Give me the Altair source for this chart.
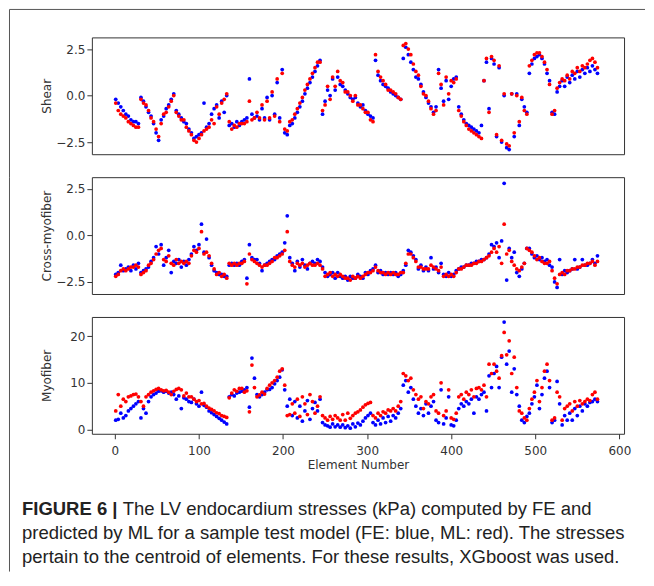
import altair as alt
import pandas as pd

# element numbers (every third element is shown)
elements = list(range(1, 576, 3))

shear_fe = [
    -0.2, -0.4, -0.6, -0.8, -1.0, -1.1, -1.3, -1.4, -1.4, -1.5,
    -0.1, -0.3, -0.6, -0.9, -1.1, -1.5, -2.0, -2.4, -1.3, -1.1,
    -0.7, -0.5, -0.2, 0.1, -0.8, -1.0, -1.2, -1.4, -1.5, -1.8,
    -2.0, -2.3, -2.2, -2.1, -2.0, -0.4, -1.7, -1.5, -1.0, -0.7,
    -0.5, -1.2, -0.3, -0.9, 0.0, -1.6, -1.5, -1.7, -1.4, -1.6,
    -1.4, -1.3, -1.2, 0.9, -1.0, -1.2, -1.1, -1.3, -0.7, -1.2,
    -0.1, -1.3, 0.0, -1.0, 0.7, -1.2, 1.4, -2.0, -2.1, -1.6,
    -1.5, -1.2, -0.9, -0.6, -0.3, 0.1, 0.4, 0.7, 1.0, 1.3,
    1.6, 1.9, -1.0, -0.3, 0.3, 0.0, 0.9, 0.3, 1.0, 0.6,
    0.5, 0.3, 0.1, -0.1, -0.2, -0.1, -0.4, -0.6, -0.5, -0.8,
    -1.0, -1.1, -1.2, 1.9, 1.1, 0.8, 0.6, 0.5, 0.4, 0.2,
    0.1, 0.0, -0.1, -0.2, 2.0, 2.6, 2.2, 1.8, 1.4, 1.0,
    0.9, 0.6, 0.2, -0.1, -0.4, -0.6, -0.9, -0.6, 1.4, 0.4,
    -0.3, 0.8, -0.2, 0.5, 0.9, 1.0, -0.6, -1.0, -1.3, -1.5,
    -1.6, -1.7, -1.8, -1.9, -2.0, -1.6, 0.8, 1.8, -0.7, 2.0,
    1.7, -2.2, 1.5, -2.5, 0.0, -2.8, -2.9, 0.1, -2.2, 0.1,
    -1.6, -0.2, -0.6, -0.9, 1.2, 1.7, 2.0, 2.1, 2.2, 2.0,
    1.7, 1.2, 0.8, -0.9, -1.0, 0.2, 0.5, 0.8, 0.5, 1.0,
    0.7, 1.1, 0.9, 1.3, 1.0, 1.4, 1.2, 1.5, 1.3, 1.6,
    1.4, 1.2,
]
shear_ml = [
    -0.4, -0.8, -1.0, -1.1, -1.2, -1.4, -1.5, -1.6, -1.7, -1.7,
    -0.2, -0.4, -0.5, -0.8, -1.2, -1.4, -1.8, -2.2, -1.5, -1.0,
    -0.9, -0.6, -0.3, 0.0, -0.9, -1.1, -1.3, -1.3, -1.7, -1.9,
    -2.1, -2.4, -2.5, -2.3, -2.1, -1.9, -1.8, -1.7, -1.3, -1.5,
    -0.6, -1.0, -0.4, -0.2, 0.1, -1.4, -1.8, -1.6, -1.7, -1.5,
    -1.5, -1.5, -1.4, -0.3, -1.3, -1.2, -0.9, -1.2, -0.5, -1.3,
    -0.3, -1.2, 0.2, -1.1, 0.9, -1.4, 1.2, -1.8, -1.9, -1.4,
    -1.3, -1.0, -0.7, -0.4, -0.1, 0.3, 0.6, 0.9, 1.2, 1.5,
    1.8, 1.8, -0.8, -0.5, 0.5, -0.2, 1.0, 0.5, 1.3, 0.8,
    0.7, 0.2, 0.2, 0.0, -0.3, 0.0, -0.5, -0.5, -0.7, -0.9,
    -0.9, -1.3, -1.4, 2.2, 1.3, 1.0, 0.8, 0.6, 0.3, 0.3,
    0.2, 0.1, -0.1, -0.2, 2.7, 2.8, 2.5, 2.2, 1.7, 1.3,
    1.1, 0.5, 0.1, 0.0, -0.3, -0.7, -1.0, -0.8, 1.2, 0.6,
    -0.5, 1.0, 0.1, 0.8, 0.7, 0.9, -0.8, -1.1, -1.4, -1.6,
    -1.8, -1.9, -2.0, -2.1, -2.2, -2.3, 0.8, 2.0, -0.9, 2.1,
    1.9, -2.1, 1.6, -2.4, 0.1, -2.6, -2.7, 0.1, -2.0, 0.0,
    -1.4, -0.1, -0.8, -1.0, 1.6, 1.9, 2.2, 2.3, 2.3, 2.1,
    1.8, 1.4, 0.6, -1.0, -0.8, 0.4, 0.7, 0.9, 0.8, 1.1,
    0.9, 1.3, 1.2, 1.5, 1.3, 1.6, 1.5, 1.7, 1.9, 2.0,
    1.8, 1.5,
]

cross_fe = [
    -2.1, -2.0, -1.6, -1.9, -1.8, -1.7, -1.9, -1.6, -1.8, -1.5,
    -2.0, -1.9, -1.8, -1.7, -1.4, -1.2, -0.6, -1.0, -0.5, -1.6,
    -1.2, -0.8, -2.0, -1.4, -1.5, -1.3, -1.7, -1.4, -1.6, -1.3,
    -1.0, -0.6, -0.8, -0.5, 0.6, -0.9, -0.2, -1.2, -1.6, -1.9,
    -2.0, -2.1, -2.1, -2.2, -2.2, -1.6, -1.5, -1.6, -1.5, -1.6,
    -1.4, -1.3, -2.3, -0.5, -1.2, -1.3, -1.3, -1.5, -1.9, -1.6,
    -1.5, -1.4, -1.3, -1.3, -1.1, -1.0, -0.9, -0.4, 1.05, -1.2,
    -1.5, -1.9, -1.4, -1.7, -1.3, -1.6, -1.8, -1.5, -1.4, -1.5,
    -1.3, -1.4, -1.7, -2.0, -2.2, -2.1, -2.0, -2.3, -2.0, -2.2,
    -2.3, -2.2, -2.4, -2.2, -2.3, -2.3, -2.1, -2.2, -2.3, -2.0,
    -2.1, -1.9, -1.8, -1.6, -2.0, -1.9, -2.1, -2.0, -2.1, -2.0,
    -2.1, -2.0, -2.2, -2.1, -1.9, -1.6, -0.8, -0.9, -1.1, -1.3,
    -1.8, -1.6, -1.9, -1.7, -1.9, -1.2, -1.8, -1.7, -2.0, -1.5,
    -2.1, -2.2, -2.0, -2.2, -2.1, -1.9, -1.8, -1.7, -1.7, -1.6,
    -1.6, -1.5, -1.5, -1.4, -1.4, -1.3, -1.3, -1.2, -1.0, -0.5,
    -0.6, -0.4, -1.2, -0.3, 2.8, -2.4, -0.7, -1.2, -0.9, -2.0,
    -2.2, -1.8, -1.5, -0.7, -0.7, -1.0, -1.2, -1.1, -1.3, -1.2,
    -1.4, -1.3, -1.6, -1.7, -2.5, -2.8, -1.3, -2.1, -1.9, -2.0,
    -1.9, -1.8, -1.3, -1.8, -1.7, -1.3, -1.6, -1.6, -1.5, -1.3,
    -1.5, -1.1,
]
cross_ml = [
    -2.2, -2.1, -1.9, -1.8, -1.9, -1.8, -1.7, -1.7, -1.6, -1.7,
    -2.1, -2.0, -1.9, -1.6, -1.5, -1.3, -1.0, -0.8, -0.7, -1.3,
    -1.4, -1.1, -1.5, -1.6, -1.3, -1.5, -1.4, -1.5, -1.4, -1.5,
    -1.1, -0.8, -0.9, -0.7, 0.2, -1.0, -0.9, -1.1, -1.5, -1.8,
    -2.1, -2.0, -2.2, -2.1, -2.3, -1.5, -1.6, -1.5, -1.6, -1.5,
    -1.5, -1.4, -2.6, -1.0, -1.3, -1.4, -1.5, -1.6, -1.7, -1.6,
    -1.6, -1.5, -1.4, -1.2, -1.2, -1.1, -1.0, -0.8, 0.2, -1.4,
    -1.6, -1.7, -1.5, -1.6, -1.5, -1.7, -1.6, -1.5, -1.6, -1.6,
    -1.5, -1.6, -1.8, -2.2, -2.1, -2.0, -2.2, -2.1, -2.2, -2.1,
    -2.2, -2.3, -2.3, -2.4, -2.2, -2.3, -2.2, -2.3, -2.2, -2.1,
    -2.0, -2.0, -1.9, -1.7, -1.9, -2.0, -2.0, -2.1, -2.0, -2.1,
    -2.0, -2.1, -2.1, -2.0, -2.0, -1.5, -1.0, -1.0, -1.2, -1.4,
    -1.7, -1.7, -1.8, -1.8, -1.8, -1.6, -1.7, -1.8, -1.9, -1.7,
    -2.2, -2.1, -2.2, -2.1, -2.2, -2.0, -1.8, -1.8, -1.7, -1.6,
    -1.6, -1.6, -1.5, -1.5, -1.4, -1.4, -1.3, -1.2, -1.1, -0.9,
    -0.7, -0.9, -0.6, -1.5, 0.6, -1.0, -0.8, -1.4, -1.6, -1.8,
    -1.9, -1.7, -1.5, -0.7, -0.8, -0.9, -1.1, -1.3, -1.2, -1.4,
    -1.5, -1.5, -1.4, -1.9, -2.3, -2.6, -2.1, -2.0, -2.1, -1.9,
    -1.9, -1.8, -1.8, -1.7, -1.7, -1.6, -1.6, -1.5, -1.5, -1.4,
    -1.6, -1.4,
]

myo_fe = [
    2.0, 2.2, 3.5, 2.5, 3.0, 4.0, 4.5, 5.0, 5.5, 6.0,
    2.5, 4.5, 3.5, 6.0, 7.0, 7.5, 7.8, 8.2, 8.3, 8.0,
    8.2, 7.8, 8.0, 7.5, 6.5, 7.2, 4.5, 6.8, 6.5, 6.0,
    5.8, 6.5, 5.5, 5.0, 8.0, 5.2, 4.8, 4.0, 3.6, 3.2,
    2.8, 2.4, 2.0, 1.6, 1.2, 7.0, 7.5, 7.2, 7.8, 8.0,
    8.2, 8.5, 9.0, 4.8, 15.3, 11.0, 7.5, 7.0, 7.5, 8.0,
    8.5, 8.6, 9.0, 9.8, 10.5, 11.2, 12.8, 8.5, 5.0, 6.5,
    3.0, 6.0, 2.5, 5.0, 1.8, 4.0, 6.2, 2.2, 4.5, 5.8,
    4.0, 6.5, 1.5, 1.0, 0.8, 0.5, 1.2, 0.6, 1.0, 0.5,
    1.0, 0.4, 0.8, 0.3, 1.2, 0.6, 1.4, 1.0, 1.8, 2.5,
    3.0, 3.5, 1.5, 1.0, 2.0, 1.2, 2.5, 1.5, 2.8, 1.8,
    3.0, 2.5, 3.5, 4.5, 9.5, 10.5, 8.0, 9.0, 6.5, 5.0,
    3.5, 4.5, 3.0, 5.5, 3.5, 5.0, 6.0, 2.0, 1.5, 8.5,
    1.2, 2.5, 7.0, 1.0, 0.8, 2.0, 4.5, 5.5, 5.0, 6.0,
    5.5, 6.5, 3.5, 7.0, 6.5, 7.5, 8.0, 4.0, 11.5, 9.0,
    12.0, 13.5, 9.0, 15.5, 23.0, 14.0, 16.8, 8.0, 13.0, 7.5,
    5.0, 2.0, 1.5, 2.8, 3.5, 5.5, 7.0, 9.5, 4.5, 7.5,
    11.0, 12.5, 9.0, 1.5, 2.0, 10.3, 5.5, 1.0, 3.0, 2.0,
    3.5, 2.0, 4.5, 3.0, 5.0, 4.0, 5.5, 5.0, 5.8, 6.0,
    6.5, 6.0,
]
myo_ml = [
    4.0, 7.5, 5.0, 6.5, 6.0, 7.0, 7.2, 7.5, 7.6, 7.0,
    6.0, 5.0, 7.0, 7.5, 8.0, 8.3, 8.6, 8.8, 8.5, 8.3,
    8.4, 8.0, 7.5, 8.2, 8.6, 8.8, 8.5, 7.2, 7.8, 7.0,
    7.0, 6.5, 6.0, 6.2, 5.5, 5.6, 5.0, 4.6, 4.3, 4.0,
    3.6, 3.4, 3.0, 2.8, 2.6, 6.8, 7.8, 8.5, 8.2, 8.8,
    8.8, 8.0, 8.3, 3.8, 13.8, 9.0, 7.0, 7.4, 8.0, 7.6,
    8.8, 9.5, 10.0, 10.5, 11.2, 12.5, 13.0, 9.5, 3.0, 3.2,
    5.5, 3.5, 6.5, 2.8, 7.0, 5.5, 3.2, 7.5, 6.0, 3.5,
    5.0, 7.0, 3.0, 2.5, 2.0, 2.8, 2.2, 3.0, 2.5, 2.0,
    3.2, 2.0, 3.5, 2.4, 3.0, 3.5, 3.8, 4.2, 4.8, 5.3,
    5.6, 5.8, 3.0, 2.5, 3.5, 3.0, 3.8, 3.5, 4.2, 4.0,
    4.5, 4.0, 5.0, 6.0, 12.0, 11.5, 10.5, 11.0, 8.5, 7.5,
    6.5, 7.0, 4.5, 6.0, 5.5, 7.0, 7.5, 4.0, 3.5, 10.0,
    3.0, 4.0, 8.5, 2.5, 2.2, 3.5, 7.0, 7.5, 6.5, 8.0,
    7.5, 8.5, 7.0, 8.8, 9.0, 8.5, 9.5, 7.0, 14.0, 12.0,
    14.0, 12.5, 11.0, 15.8, 20.8, 16.0, 19.0, 12.0, 15.5, 9.0,
    4.0, 3.5, 2.5, 2.0, 4.5, 6.5, 8.0, 10.5, 6.0, 9.0,
    12.5, 14.0, 10.5, 2.0, 2.5, 8.0, 7.0, 2.0, 4.5, 5.0,
    5.5, 4.0, 6.0, 5.0, 6.2, 5.5, 6.0, 6.5, 6.2, 7.5,
    8.0, 6.5,
]

panel_titles = ["Shear", "Cross-myofiber", "Myofiber"]
stress_ticks = [-2.5, 0.0, 2.5]
myo_ticks = [0, 10, 20]
x_ticks = [0, 100, 200, 300, 400, 500, 600]
x_title = "Element Number"
caption_bold = "FIGURE 6 |"
caption_lines = [
    "The LV endocardium stresses (kPa) computed by FE and",
    "predicted by ML for a sample test model (FE: blue, ML: red). The stresses",
    "pertain to the centroid of elements. For these results, XGboost was used.",
]

W, H = 533, 117
X_DOMAIN = [-27.4, 605.6]
TXT = "#333333"
FONT = "DejaVu Sans"
CAP_FONT = "Liberation Sans"
CAP_SIZE = 18.5
one = pd.DataFrame({"k": [0]})


def points(fe, ml, title, ydom, yvals, yexpr, xaxis):
    n = min(len(elements), len(fe), len(ml))
    df = pd.DataFrame({
        "element": elements[:n] + elements[:n],
        "value": list(fe[:n]) + list(ml[:n]),
        "series": ["FE"] * n + ["ML"] * n,
    })
    return alt.Chart(df).mark_circle(size=14, opacity=1).encode(
        x=alt.X("element:Q", scale=alt.Scale(domain=X_DOMAIN, nice=False, zero=False), axis=xaxis),
        y=alt.Y("value:Q", scale=alt.Scale(domain=ydom, nice=False, zero=False),
                axis=alt.Axis(values=yvals, labelExpr=yexpr, title=title,
                              titleX=-45, titleY=H / 2, titleAngle=270,
                              titleAlign="center", titleBaseline="middle",
                              labelPadding=2)),
        color=alt.Color("series:N", scale=alt.Scale(domain=["FE", "ML"], range=["#0000ff", "#ff0000"]),
                        legend=None),
    )


def vrule(y1, y2):
    return alt.Chart(one).mark_rule(color="#555555", strokeWidth=1).encode(
        x=alt.value(-82.5), y=alt.value(y1), y2=alt.value(y2))


def hrule(x1, x2, y):
    return alt.Chart(one).mark_rule(color="#555555", strokeWidth=1).encode(
        x=alt.value(x1), x2=alt.value(x2), y=alt.value(y))


def text(s, x, y, bold=False):
    return alt.Chart(one).mark_text(
        text=s, align="left", baseline="alphabetic", font=CAP_FONT, fontSize=CAP_SIZE,
        fontWeight="bold" if bold else "normal", color="#222222").encode(
        x=alt.value(x), y=alt.value(y))


stress_expr = "replace(format(datum.value, '.1f'), '-', '\u2212')"
myo_expr = "format(datum.value, 'd')"

p1 = alt.layer(
    points(shear_fe, shear_ml, panel_titles[0], [-3.15, 3.13], stress_ticks, stress_expr, None),
    vrule(-28, 140), hrule(-82.5, 554, -28),
).properties(width=W, height=H)

p2 = alt.layer(
    points(cross_fe, cross_ml, panel_titles[1], [-3.15, 3.13], stress_ticks, stress_expr, None),
    vrule(0, 140),
).properties(width=W, height=H)

xaxis = alt.Axis(values=x_ticks, format="d", title=x_title, labelPadding=7, titlePadding=3)
p3 = alt.layer(
    points(myo_fe, myo_ml, panel_titles[2], [-0.9, 24.1], myo_ticks, myo_expr, xaxis),
    vrule(0, 255),
    text(caption_bold, -70, 198, bold=True),
    text(caption_lines[0], 31, 198),
    text(caption_lines[1], -70, 222),
    text(caption_lines[2], -70, 246),
).properties(width=W, height=H)

chart = alt.vconcat(p1, p2, p3, spacing=23, bounds="flush").properties(
    padding={"left": 0, "top": 0, "right": 0, "bottom": 0}, background="white"
).configure_view(stroke="#333333", strokeWidth=1).configure_axis(
    labelFont=FONT, labelFontSize=12, labelColor=TXT,
    titleFont=FONT, titleFontSize=12, titleFontWeight="normal", titleColor=TXT,
    tickColor=TXT, tickSize=5, tickWidth=1, domain=False, grid=False,
)

chart.save("out.html", embed_options={"renderer": "svg", "actions": False})
